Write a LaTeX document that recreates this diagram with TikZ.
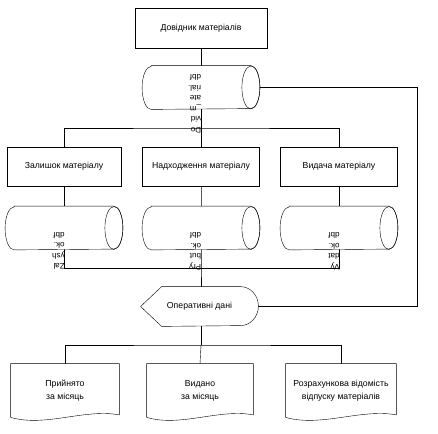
\documentclass[tikz,border=0pt]{standalone}
\usepackage{fontspec}
\setmainfont{Liberation Sans}
\usetikzlibrary{backgrounds,calc}
\newcommand\docshape[1]{\draw[fill=white] (#1.south west) -- (#1.north west) -- (#1.north east) -- ($(#1.south east)+(0,2.5)$) .. controls ($(#1.south west)!0.68!(#1.south east)+(0,9)$) and ($(#1.south west)!0.32!(#1.south east)+(0,-10)$) .. (#1.south west) -- cycle;}
\newcommand\cylshape[1]{%
  \draw[fill=white] ($(#1.north west)+(9,0)$) -- ($(#1.north east)+(-9,0)$)
     arc[start angle=90, end angle=-90, x radius=9pt, y radius=21.5pt]
     -- ($(#1.south west)+(9,0)$)
     arc[start angle=270, end angle=90, x radius=9pt, y radius=21.5pt] -- cycle;
  \draw ($(#1.east)+(-9,0)$) ellipse[x radius=9pt, y radius=21.5pt];}
\begin{document}
\begin{tikzpicture}[x=1pt,y=1pt,line width=0.8pt,
  lbl/.style={font=\fontsize{8.7}{13}\selectfont},
  box/.style={draw, fill=white, lbl, minimum width=117pt, minimum height=39pt, inner sep=1pt},
  cyl/.style={minimum width=117pt, minimum height=43pt, inner sep=0pt},
  rtxt/.style={rotate=180, align=left, inner sep=0pt, font=\fontsize{8}{10.5}\selectfont},
  plain/.style={lbl, inner sep=0pt},
  docn/.style={lbl, align=center, minimum height=53pt, inner sep=0pt}]
\useasboundingbox (0,0) rectangle (438,433);
% nodes
\node[box, minimum width=132pt, minimum height=40pt] (top) at (201,405) {Довідник матеріалів};
\node[cyl] (c0) at (201,345.5) {};
\node[box, minimum width=114pt] (b1) at (64,266.5) {Залишок матеріалу};
\node[box] (b2) at (201,266.5) {Надходження матеріалу};
\node[box] (b3) at (339,266.5) {Видача матеріалу};
\node[cyl] (c1) at (64,205) {};
\node[cyl] (c2) at (201,205) {};
\node[cyl] (c3) at (339,205) {};
\node[plain, minimum width=117pt, minimum height=39pt] (op) at (199.5,126.5) {Оперативні дані};
\node[docn, minimum width=108pt] (d1) at (65,42.5) {Прийнято\\за місяць};
\node[docn, minimum width=106pt] (d2) at (200,42.5) {Видано\\за місяць};
\node[docn, minimum width=110pt] (d3) at (341,42.5) {Розрахункова відомість\\відпуску матеріалів};
% rotated file names
\node[rtxt, anchor=north west] (t0) at (201.5,300) {Do\\vid\\\_m\\ate\\rial.\\dbf};
\node[rtxt, anchor=north west] (t1) at (65,163) {Zal\\ysh\\ok.\\dbf};
\node[rtxt, anchor=north west] (t2) at (201.5,163) {Pry\\but\\ok.\\dbf};
\node[rtxt, anchor=north west] (t3) at (340,163) {Vy\\dat\\ok.\\dbf};
% helper coordinates
\coordinate (brA) at (201,305);
\coordinate (brB) at (201,165);
\coordinate (brC) at (201,88);
\coordinate (loop) at (417,0);
\begin{scope}[on background layer]
  \draw (top.south) -- (brA);
  \draw (b1.north) |- (brA) -| (b3.north);
  \draw (brA) -- (b2.north);
  \draw (b1.south) -- (b1.south |- brB) -- (b3.south |- brB) -- (b3.south);
  \draw (b2.south) -- (brB) -- (brB |- op.north);
  \draw (c0.east) -| (loop |- op.east) -- (op.east);
  \draw (brB |- op.south) -- (brC);
  \draw (d1.north) |- (brC) -| (d3.north);
  \draw (brC) -- (d2.north);
  \cylshape{c0}
  \cylshape{c1}
  \cylshape{c2}
  \cylshape{c3}
  \draw[fill=white] (op.west) -- ($(op.north west)+(21,0)$) -- ($(op.north east)+(-18,0)$)
     arc[start angle=90, end angle=-90, x radius=18pt, y radius=19.5pt]
     -- ($(op.south west)+(21,0)$) -- cycle;
  \docshape{d1}
  \docshape{d2}
  \docshape{d3}
\end{scope}
\end{tikzpicture}
\end{document}
